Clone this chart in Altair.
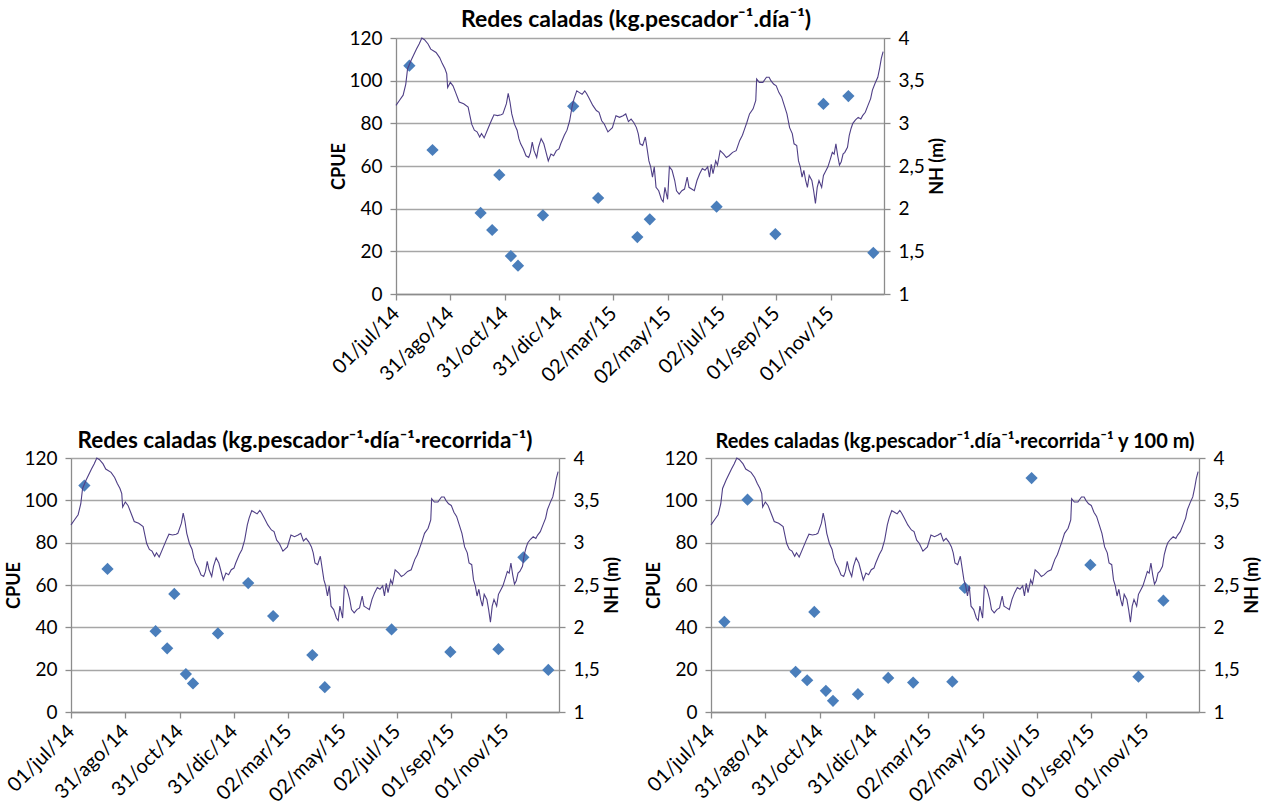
import altair as alt
import pandas as pd

# ---- NH (m) daily series (day 0 = 01/jul/14) ----
line_day = [0,4,8,11,13,17,23,26,29,32,36,39,45,49,52,55,57,58,61,64,67,71,76,81,83,85,88,91,94,96,99,103,107,110,114,118,
            120,124,126,128,130,133,136,138,140,143,146,149,151,153,155,158,160,163,166,168,171,174,177,180,183,185,189,192,195,198,
            200,203,206,209,212,214,217,221,225,228,231,234,238,243,247,251,255,258,261,264,267,270,272,274,277,280,282,284,286,288,
            290,292,295,298,300,302,305,307,310,313,315,318,321,324,327,329,332,335,338,341,344,347,350,352,354,356,359,361,364,368,
            371,374,378,382,386,389,391,394,397,401,404,405,408,412,416,419,421,424,427,430,433,436,439,442,445,447,450,452,454,456,
            458,460,462,464,467,469,471,473,475,478,480,482,485,488,490,492,494,496,498,500,502,504,507,509,511,513,516,519,522,524,
            527,530,533,535,538,541,543,545,547]
line_nh = [3.21,3.27,3.33,3.46,3.64,3.74,3.87,3.93,4.00,3.98,3.93,3.87,3.83,3.77,3.70,3.64,3.58,3.42,3.48,3.44,3.36,3.25,3.23,3.19,3.09,2.99,2.92,2.90,2.84,2.88,2.83,2.93,3.03,3.10,3.09,3.10,
           3.11,3.23,3.35,3.25,3.11,2.99,2.92,2.82,2.76,2.70,2.62,2.60,2.66,2.78,2.68,2.60,2.72,2.82,2.76,2.68,2.56,2.64,2.62,2.68,2.70,2.76,2.86,2.92,3.03,3.21,
           3.29,3.38,3.36,3.34,3.38,3.35,3.29,3.21,3.15,3.13,3.03,2.99,2.90,2.95,3.09,3.07,3.09,3.11,3.02,3.05,3.01,2.95,2.88,2.76,2.74,2.84,2.70,2.56,2.49,2.37,
           2.49,2.25,2.21,2.11,2.08,2.25,2.11,2.49,2.45,2.33,2.21,2.17,2.21,2.23,2.37,2.25,2.23,2.21,2.33,2.41,2.47,2.45,2.49,2.37,2.52,2.41,2.56,2.51,2.68,2.64,
           2.60,2.62,2.66,2.68,2.80,2.86,2.92,3.01,3.11,3.17,3.27,3.52,3.48,3.48,3.54,3.54,3.50,3.46,3.44,3.36,3.31,3.21,3.11,2.95,2.88,2.76,2.74,2.56,2.49,2.37,
           2.45,2.33,2.25,2.39,2.33,2.21,2.06,2.25,2.33,2.25,2.39,2.43,2.49,2.59,2.66,2.64,2.76,2.62,2.51,2.55,2.64,2.66,2.72,2.86,2.94,3.00,3.04,3.07,3.05,3.09,
           3.13,3.21,3.29,3.39,3.47,3.54,3.64,3.76,3.84]

# ---- CPUE samples ----
pt_day = [15, 41, 95, 108, 116, 129, 137, 165, 199, 227, 271, 285, 360, 426, 480, 508, 536]
cpue_top = [107, 67.5, 38, 30, 55.8, 17.8, 13.3, 36.9, 88, 45, 26.7, 35, 40.9, 28.1, 89.1, 92.8, 19.3]
cpue_left = [107, 67.6, 38.2, 30.1, 55.8, 17.9, 13.5, 37.1, 60.9, 45.3, 26.9, 11.7, 39, 28.4, 29.7, 73.1, 19.9]
cpue_right = [42.6, 100.3, 19, 15, 47.3, 10, 5.3, 8.4, 16.1, 13.9, 14.3, 58.6, 110.5, 69.5, 16.7, 52.6]

tick_day = [0, 61, 122, 183, 244, 305, 366, 427, 488]
tick_label = ["01/jul/14", "31/ago/14", "31/oct/14", "31/dic/14", "02/mar/15",
              "02/may/15", "02/jul/15", "01/sep/15", "01/nov/15"]
cpue_ticks = [0, 20, 40, 60, 80, 100, 120]
nh_ticks = [1, 1.5, 2, 2.5, 3, 3.5, 4]

titles = ["Redes caladas (kg.pescador\u207b\u00b9.día\u207b\u00b9)",
          "Redes caladas (kg.pescador\u207b\u00b9\u00b7día\u207b\u00b9\u00b7recorrida\u207b\u00b9)",
          "Redes caladas (kg.pescador\u207b\u00b9.día\u207b\u00b9\u00b7recorrida\u207b\u00b9 y 100 m)"]

FONT = "Lato"
BLUE = "#4A7EBB"
LINE = "#4F3F86"
GRID = "#A6A6A6"
AXIS = "#8C8C8C"

label_js = "[" + ",".join("'%s'" % t for t in tick_label) + "][round(datum.value/61)]"

line_df = pd.DataFrame({"day": line_day, "nh": line_nh})


def panel(days, vals, title, tsize, tdx, w, h):
    pts_df = pd.DataFrame({"day": days, "cpue": vals})
    x = alt.X("day:Q",
              scale=alt.Scale(domain=[0, 548], nice=False, zero=False),
              axis=alt.Axis(values=tick_day, labelExpr=label_js, labelAngle=-45,
                            labelAlign="right", labelBaseline="middle", title=None,
                            grid=False, tickSize=6, labelPadding=10, labelFontSize=20,
                            labelOverlap=False))
    pts = alt.Chart(pts_df).mark_point(shape="diamond", filled=True, size=150,
                                       color=BLUE, opacity=1).encode(
        x=x,
        y=alt.Y("cpue:Q", scale=alt.Scale(domain=[0, 120], nice=False),
                axis=alt.Axis(orient="left", values=cpue_ticks, title="CPUE",
                              grid=True, tickSize=6, labelPadding=8, titlePadding=0)))
    ln = alt.Chart(line_df).mark_line(color=LINE, strokeWidth=1.1).encode(
        x=x,
        y=alt.Y("nh:Q", scale=alt.Scale(domain=[1, 4], nice=False, zero=False),
                axis=alt.Axis(orient="right", values=nh_ticks, title="NH (m)",
                              titleAngle=270, titleBaseline="top", grid=False,
                              tickSize=6, labelPadding=8, titlePadding=4,
                              labelExpr="replace(toString(datum.value), '.', ',')")))
    return alt.layer(pts, ln).resolve_scale(y="independent").properties(
        width=w, height=h,
        title=alt.TitleParams(title, fontSize=tsize, font=FONT, fontWeight="bold",
                              anchor="middle", frame="group", offset=-3, dx=tdx,
                              color="#000000"))


top = panel(pt_day, cpue_top, titles[0], 23, -4, 488, 256)
left = panel(pt_day, cpue_left, titles[1], 22.5, -10, 488, 254)
right = panel(pt_day[:16], cpue_right, titles[2], 20, 0, 488, 254)

spacer = alt.Chart(pd.DataFrame({"a": [0]})).mark_point(opacity=0).encode(
    x=alt.value(0), y=alt.value(0)).properties(width=325, height=10)

row1 = alt.hconcat(spacer, top, spacing=0, bounds="flush")
row2 = alt.hconcat(left, right, spacing=152, bounds="flush")

chart = alt.vconcat(row1, row2, spacing=40).properties(
    padding={"left": 3, "top": 8, "right": 5, "bottom": 5}
).configure_view(stroke="transparent").configure_axis(
    labelFont=FONT, labelFontSize=19, labelColor="#000000",
    titleFont=FONT, titleFontSize=18, titleFontWeight="bold", titleColor="#000000",
    domainColor=AXIS, tickColor=AXIS, gridColor=GRID, domainWidth=1.3, gridWidth=1.3, tickWidth=1.3
).configure_title(font=FONT)

chart.save("out.html", embed_options={"renderer": "svg", "actions": False})
